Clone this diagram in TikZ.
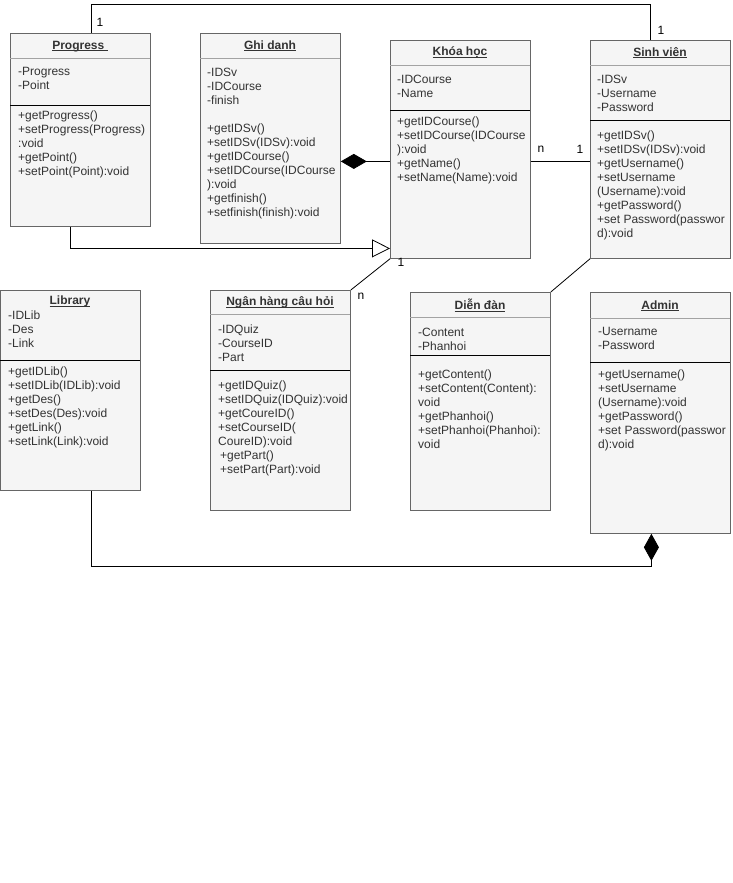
\documentclass[tikz,border=0pt]{standalone}
\usepackage{fontspec}
\setmainfont{Liberation Sans}
\usepackage{tikz}
\usetikzlibrary{arrows.meta}
\definecolor{boxfill}{HTML}{F5F5F5}
\definecolor{boxline}{HTML}{666666}
\definecolor{txt}{HTML}{333333}
\newcommand{\ultitle}[1]{{\setbox0\hbox{\bfseries #1}\rlap{\rule[-1.6pt]{\wd0}{0.7pt}}\box0}}
\tikzstyle{classbox} = [draw=boxline, fill=boxfill, line width=0.8pt, anchor=north west, inner sep=0pt]
\tikzstyle{classtitle} = [text=txt, inner sep=0pt, yshift=-1.5pt, font={\fontsize{12}{14}\selectfont}]
\tikzstyle{members} = [text=txt, anchor=north west, align=left, inner sep=0pt, yshift=-1pt, font={\fontsize{12}{14}\selectfont}]
\tikzstyle{hdrline} = [draw=boxline!60, line width=0.8pt]
\tikzstyle{sepline} = [draw=black, line width=0.8pt]
\tikzstyle{assoc} = [draw=black, line width=0.8pt]
\tikzstyle{mult} = [text=black, inner sep=0pt, font={\fontsize{12}{14}\selectfont}]

\begin{document}
\begin{tikzpicture}[x=1pt, y=-1pt]
    \useasboundingbox (0,0) rectangle (732,883);
    % boxes
    \node[classbox, minimum width=140pt, minimum height=193pt](prog) at (10,33){};
    \node[classbox, minimum width=140pt, minimum height=210pt](ghidanh) at (200,33){};
    \node[classbox, minimum width=140pt, minimum height=218pt](khoahoc) at (390,40){};
    \node[classbox, minimum width=140pt, minimum height=218pt](sinhvien) at (590,40){};
    \node[classbox, minimum width=140pt, minimum height=200pt](library) at (0,290){};
    \node[classbox, minimum width=140pt, minimum height=220pt](nganhang) at (210,290){};
    \node[classbox, minimum width=140pt, minimum height=218pt](diendan) at (410,292){};
    \node[classbox, minimum width=140pt, minimum height=241pt](admin) at (590,292){};
    % Progress
    \node[classtitle](prog-t) at (80,45){\ultitle{Progress }};
    \draw[hdrline] (10,58) -- (150,58);
    \draw[sepline] (10,105) -- (150,105);
    \node[members](prog-a) at (18,66.5){-Progress\\-Point};
    \node[members](prog-m) at (18,109.5){+getProgress()\\+setProgress(Progress)\\:void\\+getPoint()\\+setPoint(Point):void};
    % Ghi danh
    \node[classtitle](ghidanh-t) at (270,44){\ultitle{Ghi danh}};
    \draw[hdrline] (200,58) -- (340,58);
    \node[members](ghidanh-a) at (207,66.5){-IDSv\\-IDCourse\\-finish\\[14pt]+getIDSv()\\+setIDSv(IDSv):void\\+getIDCourse()\\+setIDCourse(IDCourse\\):void\\+getfinish()\\+setfinish(finish):void};
    % Khoa hoc
    \node[classtitle](khoahoc-t) at (460,51){\ultitle{Khóa học}};
    \draw[hdrline] (390,65) -- (530,65);
    \draw[sepline] (390,110) -- (530,110);
    \node[members](khoahoc-a) at (397,73.5){-IDCourse\\-Name};
    \node[members](khoahoc-m) at (397,115.5){+getIDCourse()\\+setIDCourse(IDCourse\\):void\\+getName()\\+setName(Name):void};
    % Sinh vien
    \node[classtitle](sinhvien-t) at (660,51){\ultitle{Sinh viên}};
    \draw[hdrline] (590,65) -- (730,65);
    \draw[sepline] (590,120) -- (730,120);
    \node[members](sinhvien-a) at (597,73.5){-IDSv\\-Username\\-Password};
    \node[members](sinhvien-m) at (597,129.5){+getIDSv()\\+setIDSv(IDSv):void\\+getUsername()\\+setUsername\\(Username):void\\+getPassword()\\+set Password(passwor\\d):void};
    % Library
    \node[classtitle](library-t) at (70,300){\ultitle{Library}};
    \draw[sepline] (0,360) -- (140,360);
    \node[members](library-a) at (8,309.5){-IDLib\\-Des\\-Link};
    \node[members](library-m) at (8,365.5){+getIDLib()\\+setIDLib(IDLib):void\\+getDes()\\+setDes(Des):void\\+getLink()\\+setLink(Link):void};
    % Ngan hang cau hoi
    \node[classtitle](nganhang-t) at (280,301){\ultitle{Ngân hàng câu hỏi}};
    \draw[hdrline] (210,314) -- (350,314);
    \draw[sepline] (210,370) -- (350,370);
    \node[members](nganhang-a) at (218,323.5){-IDQuiz\\-CourseID\\-Part};
    \node[members](nganhang-m) at (218,379.5){+getIDQuiz()\\+setIDQuiz(IDQuiz):void\\+getCoureID()\\+setCourseID(\\CoureID):void\\\hspace{2pt}+getPart()\\\hspace{2pt}+setPart(Part):void};
    % Dien dan
    \node[classtitle](diendan-t) at (480,304){\ultitle{Diễn đàn}};
    \draw[hdrline] (410,317) -- (550,317);
    \draw[sepline] (410,355) -- (550,355);
    \node[members](diendan-a) at (418,326.5){-Content\\-Phanhoi};
    \node[members](diendan-m) at (418,368.5){+getContent()\\+setContent(Content):\\void\\+getPhanhoi()\\+setPhanhoi(Phanhoi):\\void};
    % Admin
    \node[classtitle](admin-t) at (660,304){\ultitle{Admin}};
    \draw[hdrline] (590,318) -- (730,318);
    \draw[sepline] (590,362) -- (730,362);
    \node[members](admin-a) at (598,326.5){-Username\\-Password};
    \node[members](admin-m) at (598,368.5){+getUsername()\\+setUsername\\(Username):void\\+getPassword()\\+set Password(passwor\\d):void};
    % connectors
    \draw[assoc]([xshift=11pt]prog.north) -- ++(0,-29) -| ([xshift=-10pt]sinhvien.north);
    \node[mult](m1) at (100,22){1};
    \node[mult](m2) at (661,30){1};
    \draw[assoc,-{Triangle[open,length=18pt,width=18pt]}]([xshift=-10pt]prog.south) |- ([yshift=-99pt]khoahoc.west);
    \draw[assoc,{Diamond[length=26pt,width=15pt]}-]([yshift=-23pt]ghidanh.east) -- ([yshift=-23pt]ghidanh.east -| khoahoc.west);
    \draw[assoc](khoahoc.east |- 0,161) -- (sinhvien.west |- 0,161);
    \node[mult](m3) at (541,149){n};
    \node[mult](m4) at (580,149){1};
    \draw[assoc](khoahoc.south west) -- (nganhang.north east);
    \node[mult](m5) at (401,262){1};
    \node[mult](m6) at (361,296){n};
    \draw[assoc](sinhvien.south west) -- (diendan.north east);
    \draw[assoc,{Diamond[length=27pt,width=15pt]}-]([xshift=-9pt]admin.south) -- ++(0,33) -| ([xshift=21pt]library.south);
\end{tikzpicture}
\end{document}
